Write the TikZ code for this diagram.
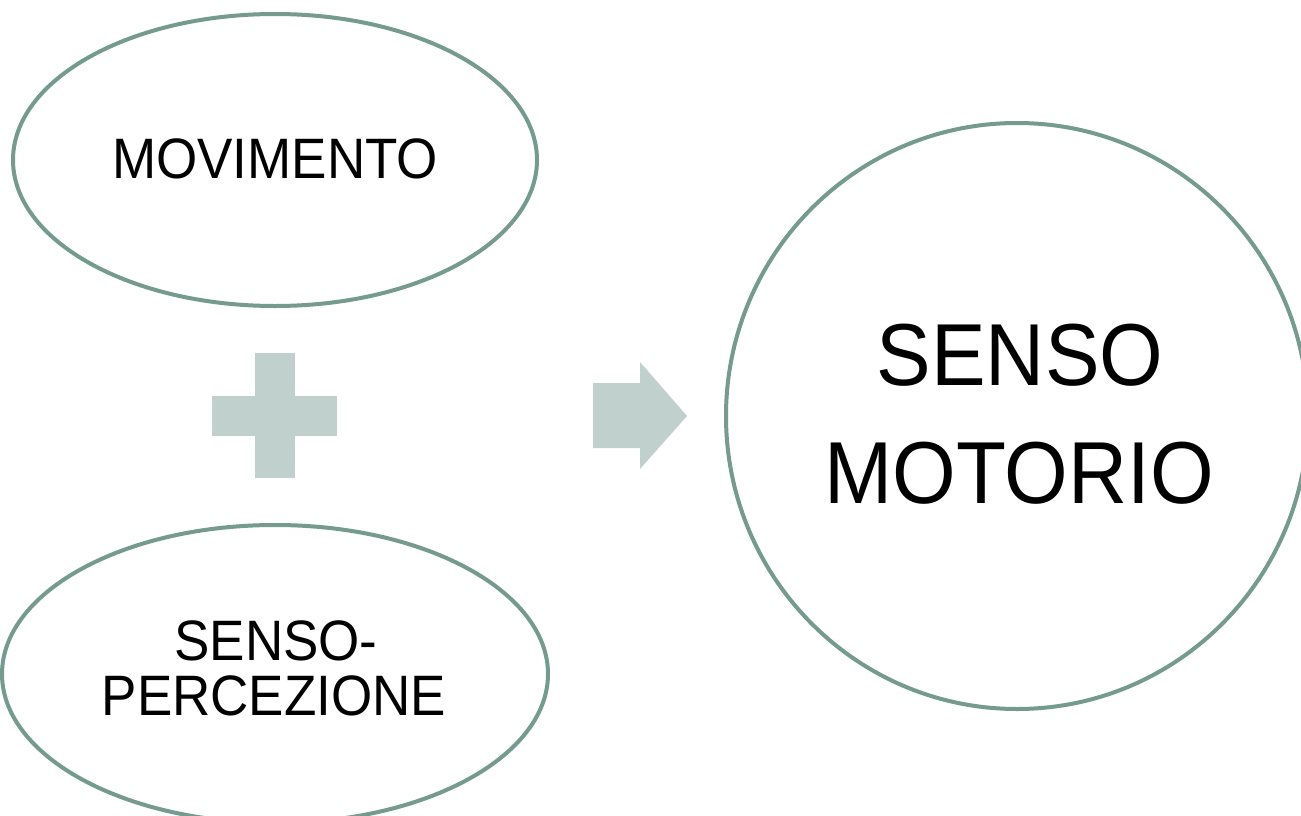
\documentclass[tikz,border=0pt]{standalone}
\usepackage{fontspec}
\newfontfamily\lab[FakeStretch=0.93]{Liberation Sans}
\usetikzlibrary{shapes.geometric}
\definecolor{edgecol}{HTML}{749B8D}
\definecolor{plusfill}{HTML}{C0D0CC}
\begin{document}
\begin{tikzpicture}[x=1pt,y=-1pt,
  bubble/.style={draw=edgecol, line width=4pt, ellipse, inner sep=0pt},
  lbl/.style={anchor=base, inner sep=0pt, text=black},
  small/.style={lbl, font=\lab\fontsize{57}{57}\selectfont},
  big/.style={lbl, font=\lab\fontsize{88}{88}\selectfont},
  flat/.style={fill=plusfill, draw=none}]
\clip (0,0) rectangle (1301,816);
\fill[white] (0,0) rectangle (1301,816);
% ellipses
\node[bubble, minimum width=524pt, minimum height=292pt] (mov) at (275,160) {};
\node[bubble, minimum width=546pt, minimum height=298pt] (sens) at (275,674) {};
\node[bubble, minimum width=582pt, minimum height=586pt] (mot) at (1017,416) {};
% labels
\node[small] (tmov) at (275,178) {MOVIMENTO};
\node[small] (ts1) at (276,660) {SENSO-};
\node[small] (ts2) at (274,715) {PERCEZIONE};
\node[big] (tm1) at (1020,385) {SENSO};
\node[big] (tm2) at (1019,503) {MOTORIO};
% plus sign
\path[flat] (255,353) rectangle (295,478);
\path[flat] (212,396) rectangle (337,436);
% arrow
\path[flat] (593,383) -- (640,383) -- (640,362) -- (687,416) -- (640,469) -- (640,448) -- (593,448) -- cycle;
\end{tikzpicture}
\end{document}
